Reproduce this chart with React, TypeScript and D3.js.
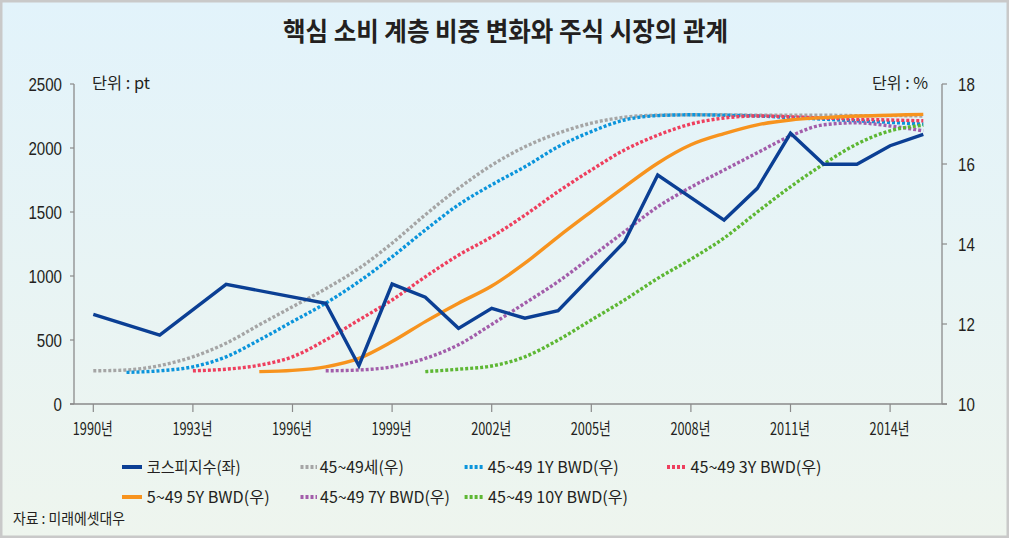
import React from 'react';
import * as d3 from 'd3';

// ---------- data ----------
const kospiYears = [1990, 1992, 1994, 1997, 1998, 1999, 2000, 2001, 2002, 2003, 2004, 2006, 2007, 2009, 2010, 2011, 2012, 2013, 2014, 2015];
const kospiValues = [701, 539, 935, 787, 299, 937, 834, 591, 748, 670, 729, 1268, 1789, 1437, 1685, 2115, 1873, 1873, 2018, 2107];

const age4549Start = 1990;
const age4549Values = [10.83, 10.85, 10.96, 11.18, 11.52, 11.98, 12.43, 12.88, 13.39, 14.02, 14.73, 15.39, 15.97, 16.43, 16.77, 17.02, 17.17, 17.22, 17.23, 17.23, 17.22, 17.22, 17.22, 17.21, 17.21, 17.2];

const bwd1Start = 1991;
const bwd1Values = [10.79, 10.83, 10.93, 11.18, 11.6, 12.06, 12.52, 13.06, 13.68, 14.35, 14.98, 15.48, 15.93, 16.43, 16.81, 17.1, 17.21, 17.23, 17.22, 17.2, 17.16, 17.12, 17.08, 17.04, 17.0];

const bwd3Start = 1993;
const bwd3Values = [10.83, 10.87, 10.97, 11.18, 11.6, 12.1, 12.6, 13.18, 13.72, 14.18, 14.72, 15.31, 15.85, 16.35, 16.72, 17.0, 17.15, 17.2, 17.18, 17.15, 17.12, 17.1, 17.08];

const bwd5Start = 1995;
const bwd5Values = [10.81, 10.84, 10.93, 11.14, 11.56, 12.06, 12.52, 12.95, 13.52, 14.18, 14.81, 15.43, 16.02, 16.48, 16.76, 16.98, 17.1, 17.16, 17.2, 17.22, 17.24];

const bwd7Start = 1997;
const bwd7Values = [10.83, 10.85, 10.93, 11.14, 11.48, 11.99, 12.52, 13.06, 13.68, 14.31, 14.93, 15.42, 15.85, 16.28, 16.7, 16.98, 17.03, 16.95, 16.83];

const bwd10Start = 2000;
const bwd10Values = [10.81, 10.87, 10.95, 11.18, 11.6, 12.1, 12.6, 13.14, 13.62, 14.15, 14.8, 15.43, 16.0, 16.5, 16.83, 16.97];

const xTickYears = [1990, 1993, 1996, 1999, 2002, 2005, 2008, 2011, 2014];
const leftTicks = [0, 500, 1000, 1500, 2000, 2500];
const rightTicks = [10, 12, 14, 16, 18];

const titleText = '핵심 소비 계층 비중 변화와 주식 시장의 관계';
const leftUnit = '단위 : pt';
const rightUnit = '단위 : %';
const sourceText = '자료 : 미래에셋대우';

const legendLabels = ['코스피지수(좌)', '45~49세(우)', '45~49 1Y BWD(우)', '45~49 3Y BWD(우)', '5~49 5Y BWD(우)', '45~49 7Y BWD(우)', '45~49 10Y BWD(우)'];

// ---------- styles / layout ----------
const W = 1009;
const H = 538;
const COLORS = {
  kospi: '#0b3f94',
  gray: '#a5a5a5',
  blue: '#0b94db',
  red: '#ee3f5e',
  orange: '#f7931e',
  purple: '#a25daa',
  green: '#5db733',
};
const legendLayout = [
  { sx: 122, ex: 142, tx: 146.7, tl: 94, y: 467, color: COLORS.kospi, dotted: false },
  { sx: 300.5, ex: 317, tx: 319.8, tl: 84, y: 467, color: COLORS.gray, dotted: true },
  { sx: 464.6, ex: 483, tx: 487.8, tl: 131, y: 467, color: COLORS.blue, dotted: true },
  { sx: 667, ex: 687, tx: 690.5, tl: 131, y: 467, color: COLORS.red, dotted: true },
  { sx: 122, ex: 142, tx: 146.7, tl: 123, y: 497, color: COLORS.orange, dotted: false },
  { sx: 300.5, ex: 317, tx: 320, tl: 130, y: 497, color: COLORS.purple, dotted: true },
  { sx: 464.6, ex: 483, tx: 488, tl: 140, y: 497, color: COLORS.green, dotted: true },
];

const KR = '"Noto Sans CJK KR", "Noto Sans", sans-serif';
const NUM = '"Liberation Sans", Arial, sans-serif';
const TXT = '#231f20';

function toPts(start: number, vals: number[]): [number, number][] {
  return vals.map((v, i) => [start + i, v]);
}

export default function App() {
  const x = d3.scaleLinear().domain([1990, 2015]).range([93.3, 923.3]);
  const yL = d3.scaleLinear().domain([0, 2500]).range([404, 84]);
  const yR = d3.scaleLinear().domain([10, 18]).range([404, 84]);

  const lineR = d3
    .line<[number, number]>()
    .x((d) => x(d[0]))
    .y((d) => yR(d[1]))
    .curve(d3.curveMonotoneX);
  const lineL = d3
    .line<[number, number]>()
    .x((d) => x(d[0]))
    .y((d) => yL(d[1]));

  const curves = [
    { pts: toPts(age4549Start, age4549Values), color: COLORS.gray, dotted: true },
    { pts: toPts(bwd1Start, bwd1Values), color: COLORS.blue, dotted: true },
    { pts: toPts(bwd3Start, bwd3Values), color: COLORS.red, dotted: true },
    { pts: toPts(bwd7Start, bwd7Values), color: COLORS.purple, dotted: true },
    { pts: toPts(bwd10Start, bwd10Values), color: COLORS.green, dotted: true },
    { pts: toPts(bwd5Start, bwd5Values), color: COLORS.orange, dotted: false },
  ];
  const kospiPts: [number, number][] = kospiYears.map((yr, i) => [yr, kospiValues[i]]);

  const axisColor = '#8a8a8a';
  const xLeft = 74;
  const xRight = 942;
  const yBottom = yL(0);

  return (
    <div style={{ position: 'fixed', left: 0, top: 0, width: W, height: H }}>
      <svg width={W} height={H} viewBox={`0 0 ${W} ${H}`} style={{ display: 'block' }}>
        <defs>
          <linearGradient id="bg" x1="0" y1="0" x2="0" y2="1">
            <stop offset="0" stopColor="#e2f3fb" />
            <stop offset="1" stopColor="#eef5ee" />
          </linearGradient>
        </defs>
        <rect x={0} y={0} width={W} height={H} fill="url(#bg)" />
        <rect x={1.25} y={1.25} width={W - 2.5} height={H - 2.5} fill="none" stroke="#c9c9c9" strokeWidth={2.5} />

        {/* title */}
        <text
          x={505.5}
          y={41}
          textAnchor="middle"
          fontFamily={KR}
          fontWeight={700}
          fontSize={26}
          fill={TXT}
          textLength={445}
          lengthAdjust="spacingAndGlyphs"
        >
          {titleText}
        </text>

        {/* axes */}
        <line x1={xLeft} x2={xLeft} y1={yL(2500)} y2={yBottom} stroke={axisColor} strokeWidth={1.3} />
        <line x1={xRight} x2={xRight} y1={yR(18)} y2={yBottom} stroke={axisColor} strokeWidth={1.3} />
        <line x1={70} x2={xRight + 5} y1={yBottom} y2={yBottom} stroke={axisColor} strokeWidth={1.3} />

        {leftTicks.map((t) => (
          <g key={'l' + t}>
            <line x1={70} x2={xLeft} y1={yL(t)} y2={yL(t)} stroke={axisColor} strokeWidth={1.2} />
            <text
              transform={`translate(62,${yL(t) + 6.5}) scale(0.84,1)`}
              textAnchor="end"
              fontFamily={NUM}
              fontSize={18}
              fill={TXT}
            >
              {t}
            </text>
          </g>
        ))}
        {rightTicks.map((t) => (
          <g key={'r' + t}>
            <line x1={xRight} x2={xRight + 5} y1={yR(t)} y2={yR(t)} stroke={axisColor} strokeWidth={1.2} />
            <text
              transform={`translate(958,${yR(t) + 6.5}) scale(0.84,1)`}
              textAnchor="start"
              fontFamily={NUM}
              fontSize={18}
              fill={TXT}
            >
              {t}
            </text>
          </g>
        ))}
        {xTickYears.map((yr) => (
          <g key={'x' + yr}>
            <line x1={x(yr)} x2={x(yr)} y1={yBottom} y2={yBottom + 8} stroke={axisColor} strokeWidth={1.2} />
            <text
              x={x(yr) - 0.5}
              y={435}
              textAnchor="middle"
              fontFamily={KR}
              fontSize={17}
              fill={TXT}
              textLength={40}
              lengthAdjust="spacingAndGlyphs"
            >
              {`${yr}년`}
            </text>
          </g>
        ))}

        {/* units */}
        <text x={92} y={89} fontFamily={KR} fontSize={16} fill={TXT} textLength={58} lengthAdjust="spacingAndGlyphs">
          {leftUnit}
        </text>
        <text x={928} y={89} textAnchor="end" fontFamily={KR} fontSize={16} fill={TXT} textLength={56} lengthAdjust="spacingAndGlyphs">
          {rightUnit}
        </text>

        {/* curves */}
        {curves.map((c, i) => (
          <path
            key={'c' + i}
            d={lineR(c.pts) || ''}
            fill="none"
            stroke={c.color}
            strokeWidth={3.4}
            strokeDasharray={c.dotted ? '3 2' : undefined}
          />
        ))}
        <path d={lineL(kospiPts) || ''} fill="none" stroke={COLORS.kospi} strokeWidth={3.4} strokeLinejoin="miter" />

        {/* legend */}
        {legendLayout.map((l, i) => (
          <g key={'lg' + i}>
            <line
              x1={l.sx}
              x2={l.ex}
              y1={l.y}
              y2={l.y}
              stroke={l.color}
              strokeWidth={4}
              strokeDasharray={l.dotted ? '3 2' : undefined}
            />
            <text
              x={l.tx}
              y={l.y + 6}
              fontFamily={KR}
              fontSize={16}
              fill={TXT}
              textLength={l.tl}
              lengthAdjust="spacingAndGlyphs"
            >
              {legendLabels[i]}
            </text>
          </g>
        ))}

        {/* source */}
        <text x={13} y={524} fontFamily={KR} fontSize={15} fill={TXT} textLength={112} lengthAdjust="spacingAndGlyphs">
          {sourceText}
        </text>
      </svg>
    </div>
  );
}
